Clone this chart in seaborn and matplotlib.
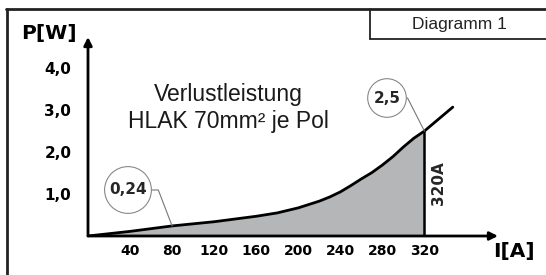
import matplotlib
matplotlib.use("Agg")
import matplotlib.pyplot as plt
from matplotlib.lines import Line2D
import numpy as np
import seaborn as sns

# Werte
CURRENT_A = [0, 40, 80, 120, 160, 180, 200, 220, 230, 240, 250, 260, 270, 280,
             290, 300, 310, 320, 347]
POWER_W = [0, 0.11, 0.24, 0.34, 0.47, 0.55, 0.67, 0.83, 0.93, 1.05, 1.2, 1.36,
           1.51, 1.69, 1.89, 2.12, 2.33, 2.5, 3.07]
X_TICKS = [40, 80, 120, 160, 200, 240, 280, 320, 360]
X_LABELS = ["40", "80", "120", "160", "200", "240", "280", "320", ""]
Y_TICKS = [0.5, 1.0, 1.5, 2.0, 2.5, 3.0, 3.5, 4.0]
Y_LABELS = ["", "1,0", "", "2,0", "", "3,0", "", "4,0"]
I_LOW, P_LOW = 80, 0.24
I_NOM, P_NOM = 320, 2.5

W, H = 546, 275

sns.set_style("white")
plt.rcParams["font.family"] = ["DejaVu Sans"]

fig = plt.figure(figsize=(W / 100, H / 100), dpi=100)
ax = fig.add_axes([88 / W, (H - 236) / H, 410 / W, 199 / H])

cur = np.array(CURRENT_A)
pw = np.array(POWER_W)

ax.fill_between(cur, pw, where=cur <= I_NOM, color="#b4b6b8", lw=0)
sns.lineplot(x=CURRENT_A, y=POWER_W, ax=ax, color="black", lw=2)
ax.vlines(I_NOM, 0, P_NOM, color="black", lw=1.8)

ax.set_xlim(0, 390)
ax.set_ylim(0, 4.74)
for s in ax.spines.values():
    s.set_visible(False)

# Achsen mit Pfeilen
arrow = dict(arrowstyle="-|>", lw=2, color="black", mutation_scale=12,
             shrinkA=0, shrinkB=0)
ax.annotate("", xy=(1, 0), xytext=(0, 0), xycoords="axes fraction", arrowprops=arrow)
ax.annotate("", xy=(0, 1), xytext=(0, 0), xycoords="axes fraction", arrowprops=arrow)

ax.set_xticks(X_TICKS)
ax.set_xticklabels(X_LABELS, fontsize=10, fontweight="bold")
ax.set_yticks(Y_TICKS)
ax.set_yticklabels(Y_LABELS, fontsize=11, fontweight="bold")
ax.tick_params(axis="x", direction="in", length=4, width=1.5, pad=6, colors="black")
ax.tick_params(axis="y", direction="out", length=4, width=1.5, pad=8, colors="black")
ax.set_xlabel("")
ax.set_ylabel("")

# Beschriftungen
fig.text(49 / W, 1 - 33 / H, "P[W]", fontsize=14.5, fontweight="bold",
         ha="center", va="center", color="black")
fig.text(514 / W, 1 - 252 / H, "I[A]", fontsize=14.5, fontweight="bold",
         ha="center", va="center", color="black")
fig.text(228 / W, 1 - 108 / H, "Verlustleistung\nHLAK 70mm² je Pol",
         family="Liberation Sans", fontsize=16.5, ha="center", va="center",
         linespacing=1.25, color="#1a1a1a")
ax.text(333, 1.26, "320A", rotation=90, fontsize=11, fontweight="bold",
        ha="center", va="center")

circ = dict(boxstyle="circle,pad=0.3", fc="white", ec="#888888", lw=0.8)
ax.annotate("0,24", xy=(I_LOW, P_LOW), xycoords="data",
            xytext=(128 / W, 1 - 190 / H), textcoords="figure fraction",
            fontsize=11, fontweight="bold", ha="center", va="center",
            bbox=circ,
            arrowprops=dict(arrowstyle="-", color="#777777", lw=0.8,
                            shrinkA=0, shrinkB=0,
                            connectionstyle="angle,angleA=0,angleB=111,rad=0"))
circ2 = dict(boxstyle="circle,pad=0.38", fc="white", ec="#888888", lw=0.8)
ax.annotate("2,5", xy=(I_NOM, P_NOM), xycoords="data",
            xytext=(387 / W, 1 - 98 / H), textcoords="figure fraction",
            fontsize=11, fontweight="bold", ha="center", va="center",
            bbox=circ2,
            arrowprops=dict(arrowstyle="-", color="#777777", lw=0.8,
                            shrinkA=0, shrinkB=0,
                            connectionstyle="angle,angleA=0,angleB=117,rad=0"))

# Rahmen und Titelkasten
def fig_line(x0, y0, x1, y1, lw):
    fig.add_artist(Line2D([x0 / W, x1 / W], [1 - y0 / H, 1 - y1 / H],
                          color="#222222", lw=lw))

fig_line(7, 9, 7, H + 5, 2)
fig_line(6, 9, W + 5, 9, 2)
fig_line(370, 9, 370, 39, 1.3)
fig_line(370, 39, W + 5, 39, 1.3)
fig.text(459 / W, 1 - 25 / H, "Diagramm 1", family="Liberation Sans",
         fontsize=12.5, ha="center", va="center", color="#222222")

fig.savefig("out.png", dpi=100)
